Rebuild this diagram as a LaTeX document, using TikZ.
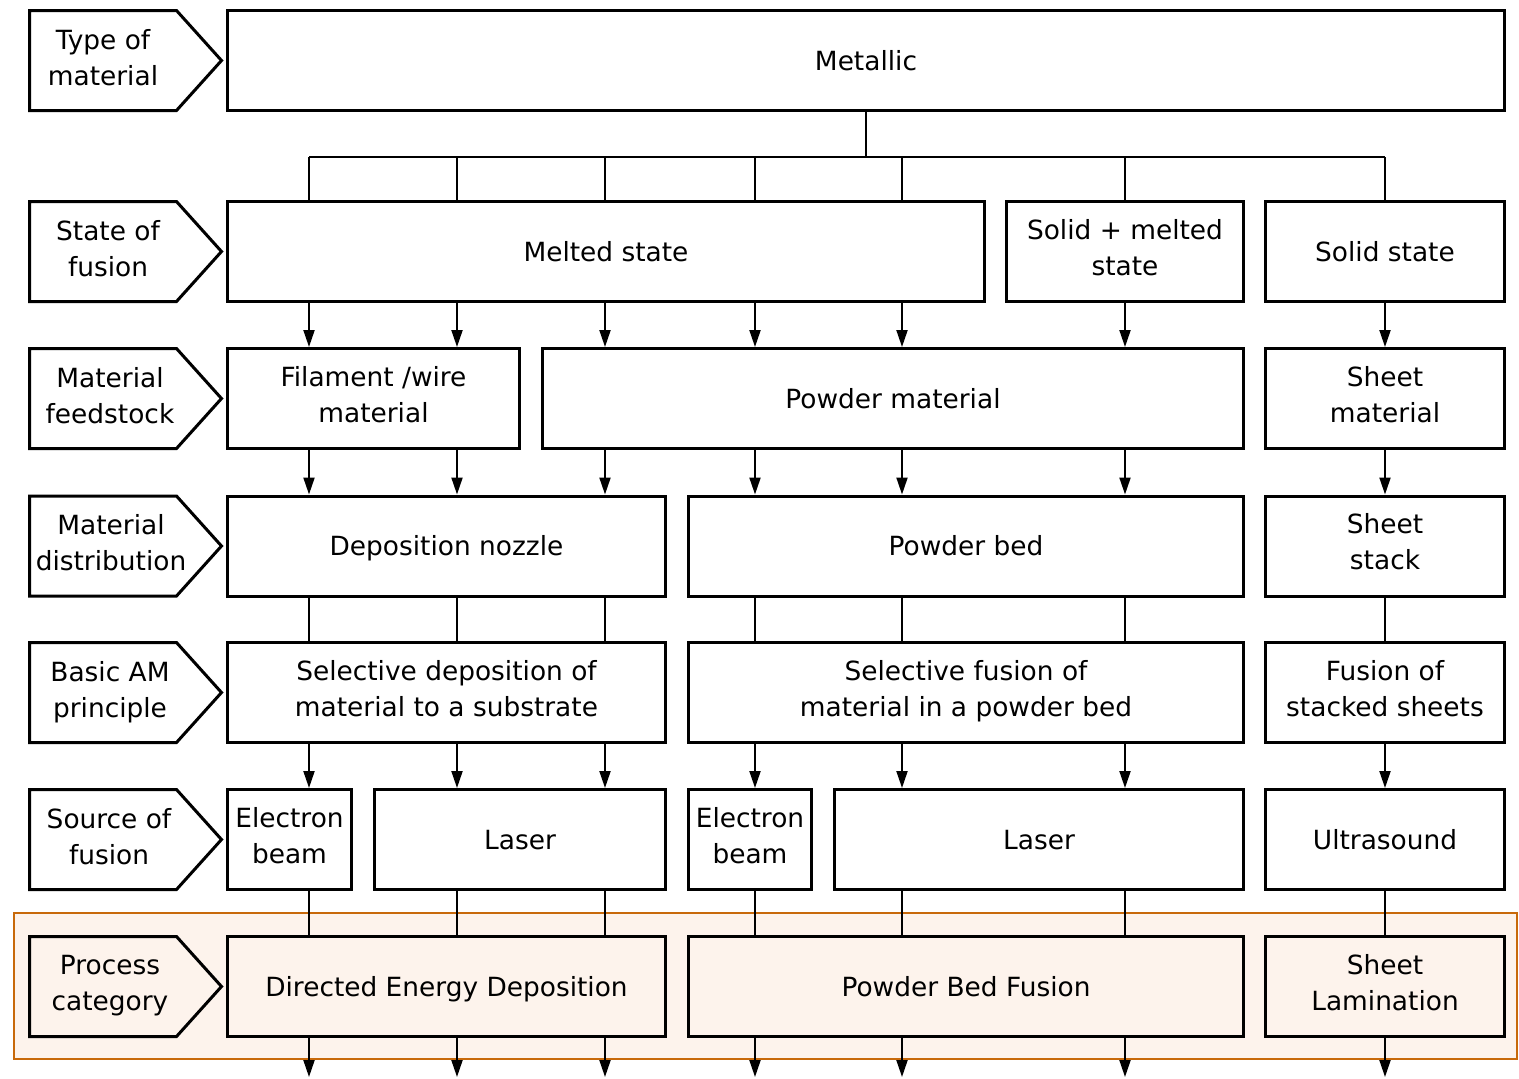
\documentclass[tikz,border=0pt]{standalone}
\usepackage{fontspec}
\setmainfont{DejaVu Sans}
\usetikzlibrary{arrows.meta, positioning}
\definecolor{peach}{HTML}{FDF3EC}
\definecolor{rust}{HTML}{C8690A}
\newcommand{\bxstrut}{\vrule width 0pt height 13.8pt depth 4.2pt}
\tikzstyle{boxNode} = [rectangle, minimum height=50pt, text centered, align=center, draw=black, line width=1.5pt, fill=white, font=\fontsize{13.2}{18}\selectfont, execute at begin node=\bxstrut, execute at end node=\bxstrut]
\tikzstyle{boxNodeP} = [boxNode, fill=peach]
\tikzstyle{lblNode} = [rectangle, inner sep=0pt, text centered, align=center, font=\fontsize{13.2}{18}\selectfont, execute at begin node=\bxstrut, execute at end node=\bxstrut]
\tikzstyle{lblShape} = [draw=black, line width=1.5pt]
\tikzstyle{arrow} = [line width=1pt, -{Triangle[length=8.5pt,width=5.5pt]}, draw=black]
\tikzstyle{plainLine} = [line width=1pt, draw=black]
\tikzstyle{hlBox} = [rectangle, draw=rust, line width=1pt, fill=peach]

\begin{document}
\begin{tikzpicture}[x=0.5pt, y=-0.5pt]
        \useasboundingbox (0,0) rectangle (1519,1078);
        % highlighted band
        \node (band) [hlBox, minimum width=751.5pt, minimum height=73pt] at (765.5,986) {};

        % columns
        \coordinate (c1) at (309,0);
        \coordinate (c2) at (457,0);
        \coordinate (c3) at (605,0);
        \coordinate (c4) at (755,0);
        \coordinate (c5) at (902,0);
        \coordinate (c6) at (1125,0);
        \coordinate (c7) at (1385,0);
        \coordinate (bus) at (0,157);
        \coordinate (bot) at (0,1077);

        % left labels
        \node (lType) [lblNode] at (103,61.5) {Type of\\material};
        \node (lState) [lblNode] at (108,252.5) {State of\\fusion};
        \node (lFeed) [lblNode] at (110,399.5) {Material\\feedstock};
        \node (lDist) [lblNode] at (111,547) {Material\\distribution};
        \node (lPrin) [lblNode] at (110,693.5) {Basic AM\\principle};
        \node (lSrc) [lblNode] at (109,840.5) {Source of\\fusion};
        \node (lCat) [lblNode] at (110,987.5) {Process\\category};
        \foreach \l/\dx in {lType/0,lState/5,lFeed/7,lDist/8,lPrin/7,lSrc/6,lCat/7}
            \draw [lblShape] (\l.center) ++(-73.5-\dx,-51) -- ++(147,0) -- ++(45,50) -- ++(-45,50) -- ++(-147,0) -- cycle;

        % boxes
        \node (metal) [boxNode, minimum width=638.5pt] at (866,60.5) {Metallic};
        \node (melt) [boxNode, minimum width=378.5pt] at (606,251.5) {Melted state};
        \node (semi) [boxNode, minimum width=118.5pt] at (1125,251.5) {Solid + melted\\state};
        \node (solid) [boxNode, minimum width=119.5pt] at (1385,251.5) {Solid state};
        \node (wire) [boxNode, minimum width=146pt] at (373.5,398.5) {Filament /wire\\material};
        \node (powder) [boxNode, minimum width=350.5pt] at (893,398.5) {Powder material};
        \node (sheet) [boxNode, minimum width=119.5pt] at (1385,398.5) {Sheet\\material};
        \node (nozzle) [boxNode, minimum width=219pt] at (446.5,546) {Deposition nozzle};
        \node (bed) [boxNode, minimum width=277.5pt] at (966,546) {Powder bed};
        \node (stack) [boxNode, minimum width=119.5pt] at (1385,546) {Sheet\\stack};
        \node (selDep) [boxNode, minimum width=219pt] at (446.5,692.5) {Selective deposition of\\material to a substrate};
        \node (selFus) [boxNode, minimum width=277.5pt] at (966,692.5) {Selective fusion of\\material in a powder bed};
        \node (fusSheet) [boxNode, minimum width=119.5pt] at (1385,692.5) {Fusion of\\stacked sheets};
        \node (ebA) [boxNode, minimum width=62pt, inner xsep=0pt] at (289.5,839.5) {Electron\\beam};
        \node (laserA) [boxNode, minimum width=145.5pt] at (520,839.5) {Laser};
        \node (ebB) [boxNode, minimum width=61.5pt, inner xsep=0pt] at (750,839.5) {Electron\\beam};
        \node (laserB) [boxNode, minimum width=204.5pt] at (1039,839.5) {Laser};
        \node (ultra) [boxNode, minimum width=119.5pt] at (1385,839.5) {Ultrasound};
        \node (ded) [boxNodeP, minimum width=219pt] at (446.5,986.5) {Directed Energy Deposition};
        \node (pbf) [boxNodeP, minimum width=277.5pt] at (966,986.5) {Powder Bed Fusion};
        \node (sl) [boxNodeP, minimum width=119.5pt] at (1385,986.5) {Sheet\\Lamination};

        % type -> state
        \draw [plainLine] (metal.south) -- (metal.south |- bus);
        \draw [plainLine] (c1 |- bus) -- (c7 |- bus);
        \foreach \c in {c1,c2,c3,c4,c5}
            \draw [plainLine] (\c |- bus) -- (\c |- melt.north);
        \draw [plainLine] (c6 |- bus) -- (c6 |- semi.north);
        \draw [plainLine] (c7 |- bus) -- (c7 |- solid.north);

        % state -> feedstock
        \foreach \c in {c1,c2}
            \draw [arrow] (\c |- melt.south) -- (\c |- wire.north);
        \foreach \c in {c3,c4,c5}
            \draw [arrow] (\c |- melt.south) -- (\c |- powder.north);
        \draw [arrow] (c6 |- semi.south) -- (c6 |- powder.north);
        \draw [arrow] (c7 |- solid.south) -- (c7 |- sheet.north);

        % feedstock -> distribution
        \foreach \c in {c1,c2}
            \draw [arrow] (\c |- wire.south) -- (\c |- nozzle.north);
        \draw [arrow] (c3 |- powder.south) -- (c3 |- nozzle.north);
        \foreach \c in {c4,c5,c6}
            \draw [arrow] (\c |- powder.south) -- (\c |- bed.north);
        \draw [arrow] (c7 |- sheet.south) -- (c7 |- stack.north);

        % distribution -> principle
        \foreach \c in {c1,c2,c3}
            \draw [plainLine] (\c |- nozzle.south) -- (\c |- selDep.north);
        \foreach \c in {c4,c5,c6}
            \draw [plainLine] (\c |- bed.south) -- (\c |- selFus.north);
        \draw [plainLine] (c7 |- stack.south) -- (c7 |- fusSheet.north);

        % principle -> source
        \draw [arrow] (c1 |- selDep.south) -- (c1 |- ebA.north);
        \foreach \c in {c2,c3}
            \draw [arrow] (\c |- selDep.south) -- (\c |- laserA.north);
        \draw [arrow] (c4 |- selFus.south) -- (c4 |- ebB.north);
        \foreach \c in {c5,c6}
            \draw [arrow] (\c |- selFus.south) -- (\c |- laserB.north);
        \draw [arrow] (c7 |- fusSheet.south) -- (c7 |- ultra.north);

        % source -> category
        \draw [plainLine] (c1 |- ebA.south) -- (c1 |- ded.north);
        \foreach \c in {c2,c3}
            \draw [plainLine] (\c |- laserA.south) -- (\c |- ded.north);
        \draw [plainLine] (c4 |- ebB.south) -- (c4 |- pbf.north);
        \foreach \c in {c5,c6}
            \draw [plainLine] (\c |- laserB.south) -- (\c |- pbf.north);
        \draw [plainLine] (c7 |- ultra.south) -- (c7 |- sl.north);

        % category -> out
        \foreach \c in {c1,c2,c3}
            \draw [arrow] (\c |- ded.south) -- (\c |- bot);
        \foreach \c in {c4,c5,c6}
            \draw [arrow] (\c |- pbf.south) -- (\c |- bot);
        \draw [arrow] (c7 |- sl.south) -- (c7 |- bot);
    \end{tikzpicture}
\end{document}
